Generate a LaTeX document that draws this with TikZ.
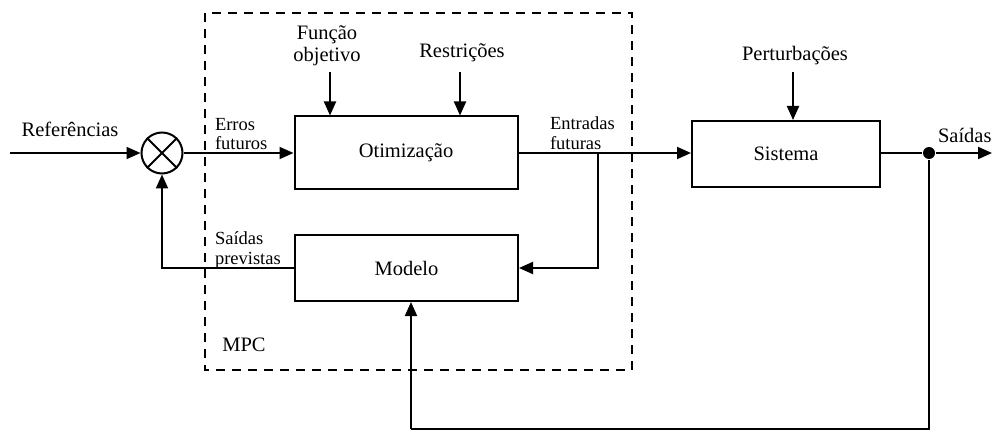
\documentclass[tikz,border=0pt]{standalone}
\usepackage{fontspec}
\setmainfont{Liberation Serif}
\usetikzlibrary{arrows.meta,calc}
\begin{document}
\begin{tikzpicture}[x=1pt,y=-1pt,
  line width=2pt,
  big/.style={font=\fontsize{20.5}{22}\selectfont},
  small/.style={font=\fontsize{18.5}{19.5}\selectfont, align=left, inner sep=0pt},
  blk/.style={draw, rectangle, big},
  arr/.style={-{Triangle[length=14pt,width=12pt]}},
  mpcbox/.style={draw, dash pattern=on 9pt off 7pt, line width=1.8pt}
]
\useasboundingbox (0,0) rectangle (992,430);

% blocks
\node[blk, minimum width=223pt, minimum height=73pt] (opt) at (406,153) {Otimização};
\node[blk, minimum width=223pt, minimum height=66pt] (mod) at (406.5,268) {Modelo};
\node[blk, minimum width=188pt, minimum height=66pt] (sis) at (786,154) {Sistema};
\node[draw, circle, minimum size=41pt, inner sep=0pt] (sum) at (162,153) {};
\draw (sum.north west) -- (sum.south east) (sum.north east) -- (sum.south west);
\node[fill, circle, minimum size=12pt, inner sep=0pt] (dot) at (929,153) {};

% MPC dashed box
\draw[mpcbox] (205,13) rectangle (632,370);
\node[big, inner sep=0pt] (mpc) at (244,345) {MPC};

% coordinates
\coordinate (in) at (10,153);
\coordinate (out) at (992,153);
\coordinate (br) at (598,153);
\coordinate (fb) at (411,429);
\coordinate (fo) at (330,72);
\coordinate (re) at (460,72);
\coordinate (pe) at (793,72);

% labels
\node[big, inner sep=0pt] (lref) at (70,129) {Referências};
\node[small, anchor=west] (ler) at (214,134) {Erros\\futuros};
\node[small, anchor=west] (lsp) at (214,250) {Saídas\\previstas};
\node[small, anchor=west] (len) at (549,133) {Entradas\\futuras};
\node[big, align=center, inner sep=0pt, font=\fontsize{20.5}{22}\selectfont] (lfo) at (327,46) {Função\\objetivo};
\node[big, inner sep=0pt] (lre) at (462,53) {Restrições};
\node[big, inner sep=0pt] (lpe) at (795,56) {Perturbações};
\node[big, inner sep=0pt, anchor=west] (lsa) at (937,135) {Saídas};

% connectors
\draw[arr] (in) -- (sum.west);
\draw[arr] (sum.east) -- (opt.west);
\draw[arr] (opt.east) -- (sis.west |- opt.east);
\draw[arr] (br) |- (mod.east);
\draw[arr] (mod.west) -| (sum.south);
\draw (sis.east |- dot) -- (dot);
\draw[arr] (dot) -- (out);
\draw (dot) |- (fb);
\draw[arr] (fb) -- (fb |- mod.south);
\draw[arr] (fo) -- (fo |- opt.north);
\draw[arr] (re) -- (re |- opt.north);
\draw[arr] (pe) -- (pe |- sis.north);
\end{tikzpicture}
\end{document}
